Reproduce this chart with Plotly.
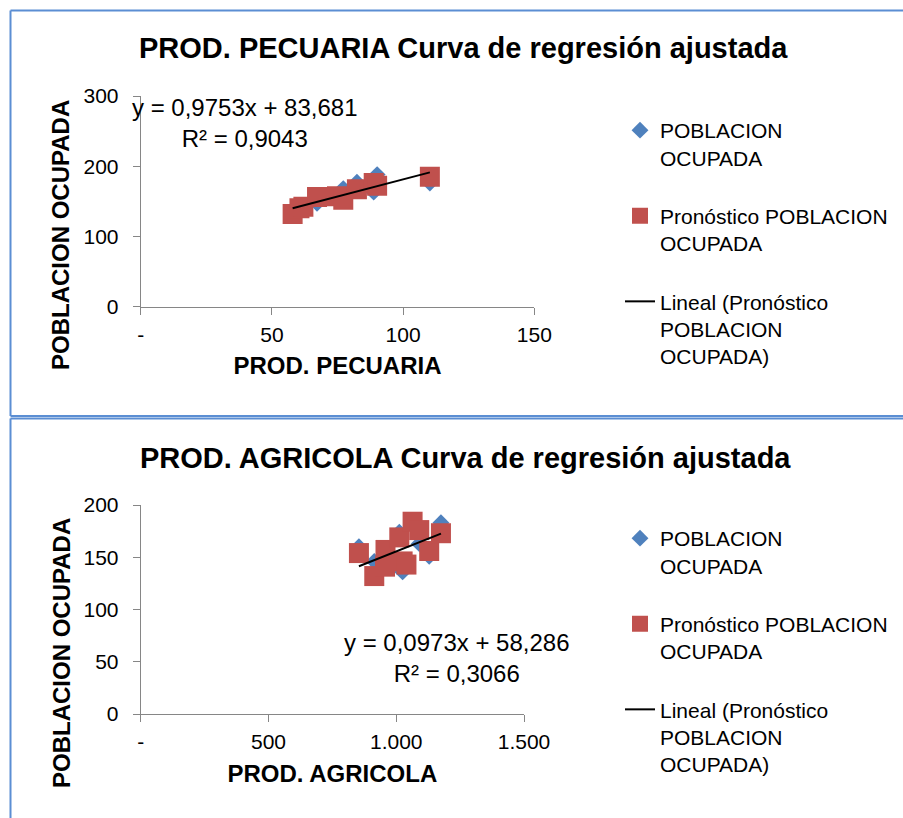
import plotly.graph_objects as go

W, H = 903, 818
FONT = "Liberation Sans"
BLUE = "#4F81BD"
RED = "#C0504D"
AXIS = "#868686"
BORDER = "#5B8ED3"

# ---- data ----
pec_x = [57.9, 60.5, 62.0, 67.2, 74.8, 77.2, 82.4, 88.8, 90.1, 110.2]
pec_obs = [134, 140, 139, 147, 158, 168, 177, 163, 188, 176]
pec_pred = [132, 140, 142, 156, 157, 152, 167, 176, 172, 185]
pec_slope, pec_intercept, pec_r2 = 0.9753, 83.681, 0.9043

agr_x = [854, 914, 956, 958, 1012, 1025, 1040, 1064, 1090, 1129, 1175]
agr_obs = [160, 146, 141, 157, 174, 136, 143, 184, 163, 151, 183]
agr_pred = [154, 132, 141, 157, 169, 146, 143, 184, 176, 156, 173]
agr_slope, agr_intercept, agr_r2 = 0.0973, 58.286, 0.3066

pec_xticks = [0, 50, 100, 150]
pec_xticktext = ["-", "50", "100", "150"]
pec_yticks = [0, 100, 200, 300]
agr_xticks = [0, 500, 1000, 1500]
agr_xticktext = ["-", "500", "1.000", "1.500"]
agr_yticks = [0, 50, 100, 150, 200]

name_obs = "POBLACION<br>OCUPADA"
name_pred = "Pronóstico POBLACION<br>OCUPADA"
name_trend = "Lineal (Pronóstico<br>POBLACION<br>OCUPADA)"


def px_x(p):
    return p / W


def px_y(p):
    return 1 - p / H


def eq_text(slope, intercept, r2):
    s = f"y = {slope:.4f}x + {intercept:.3f}".replace(".", ",")
    r = f"R² = {r2:.4f}".replace(".", ",")
    return s + "<br>" + r


fig = go.Figure()

for (xs, obs, pred, slope, icpt, xa, ya, lg, grp) in [
    (pec_x, pec_obs, pec_pred, pec_slope, pec_intercept, "x", "y", "legend", "t"),
    (agr_x, agr_obs, agr_pred, agr_slope, agr_intercept, "x2", "y2", "legend2", "b"),
]:
    fig.add_trace(go.Scatter(x=xs, y=obs, mode="markers", name=name_obs,
                             marker=dict(symbol="diamond", size=13, color=BLUE),
                             xaxis=xa, yaxis=ya, legend=lg, legendgroup=grp + "1"))
    fig.add_trace(go.Scatter(x=xs, y=pred, mode="markers", name=name_pred,
                             marker=dict(symbol="square", size=20, color=RED,
                                         line=dict(width=0)),
                             xaxis=xa, yaxis=ya, legend=lg, legendgroup=grp + "2"))
    tx = [min(xs), max(xs)]
    ty = [slope * v + icpt for v in tx]
    fig.add_trace(go.Scatter(x=tx, y=ty, mode="lines", name=name_trend,
                             line=dict(color="black", width=2),
                             xaxis=xa, yaxis=ya, legend=lg, legendgroup=grp + "3"))

tickfont = dict(family=FONT, size=21, color="black")
common_x = dict(showgrid=False, zeroline=False, showline=True, linecolor=AXIS,
                linewidth=1, ticks="outside", ticklen=7, tickcolor=AXIS,
                tickfont=tickfont, tickmode="array", ticklabelstandoff=2,
                automargin=False,
                title_font=dict(family=FONT, size=24, color="black", weight="bold"))
common_y = dict(showgrid=False, zeroline=False, showline=True, linecolor=AXIS,
                linewidth=1, ticks="outside", ticklen=7, tickcolor=AXIS,
                tickfont=tickfont, tickmode="array", ticklabelstandoff=10,
                automargin=False)

legend_common = dict(xanchor="left", yanchor="top",
                     font=dict(family=FONT, size=21, color="black"), valign="top",
                     itemsizing="trace", tracegroupgap=28, bgcolor="rgba(0,0,0,0)")

fig.update_layout(
    width=W, height=H, autosize=False,
    margin=dict(l=0, r=0, t=0, b=0, pad=0, autoexpand=False),
    paper_bgcolor="white", plot_bgcolor="white",
    font=dict(family=FONT, color="black"),
    xaxis=dict(common_x, domain=[px_x(140.7), px_x(534.3)], range=[0, 150],
               tickvals=pec_xticks, ticktext=pec_xticktext, anchor="y",
               title=dict(text="PROD. PECUARIA", standoff=12)),
    yaxis=dict(common_y, domain=[px_y(306.5), px_y(96)], range=[0, 300],
               tickvals=pec_yticks, anchor="x"),
    xaxis2=dict(common_x, domain=[px_x(140.7), px_x(524)], range=[0, 1500],
                tickvals=agr_xticks, ticktext=agr_xticktext, anchor="y2",
                title=dict(text="PROD. AGRICOLA", standoff=12)),
    yaxis2=dict(common_y, domain=[px_y(714), px_y(505)], range=[0, 200],
                tickvals=agr_yticks, anchor="x2"),
    legend=dict(legend_common, x=px_x(620), y=px_y(110)),
    legend2=dict(legend_common, x=px_x(620), y=px_y(518)),
    showlegend=True,
)

# chart borders (open on the right, as in the reference)
bline = dict(color=BORDER, width=2)
for (top, bottom) in [(10.5, 416), (418.5, 818)]:
    fig.add_shape(type="line", xref="paper", yref="paper",
                  x0=px_x(10.5), x1=1, y0=px_y(top), y1=px_y(top), line=bline)
    fig.add_shape(type="line", xref="paper", yref="paper",
                  x0=px_x(10.5), x1=px_x(10.5), y0=px_y(top), y1=max(0, px_y(bottom)),
                  line=bline)
fig.add_shape(type="line", xref="paper", yref="paper",
              x0=px_x(10.5), x1=1, y0=px_y(416), y1=px_y(416), line=bline)

title_font = dict(family=FONT, size=29, color="black", weight="bold")
ytitle_font = dict(family=FONT, size=24, color="black", weight="bold")
eq_font = dict(family=FONT, size=24, color="black")

annos = [
    dict(text="PROD. PECUARIA Curva de regresión ajustada", x=px_x(463.5), y=px_y(48),
         font=title_font),
    dict(text="PROD. AGRICOLA Curva de regresión ajustada", x=px_x(465), y=px_y(458),
         font=title_font),
    dict(text="POBLACION OCUPADA", x=px_x(61), y=px_y(235), textangle=-90, font=ytitle_font),
    dict(text="POBLACION OCUPADA", x=px_x(61), y=px_y(653), textangle=-90, font=ytitle_font),
    dict(text=eq_text(pec_slope, pec_intercept, pec_r2), x=px_x(245), y=px_y(123.5),
         font=eq_font, align="center"),
    dict(text=eq_text(agr_slope, agr_intercept, agr_r2), x=px_x(457), y=px_y(657.5),
         font=eq_font, align="center"),
]
for a in annos:
    fig.add_annotation(xref="paper", yref="paper", showarrow=False,
                       xanchor="center", yanchor="middle", **a)

fig.write_html("out.html")
